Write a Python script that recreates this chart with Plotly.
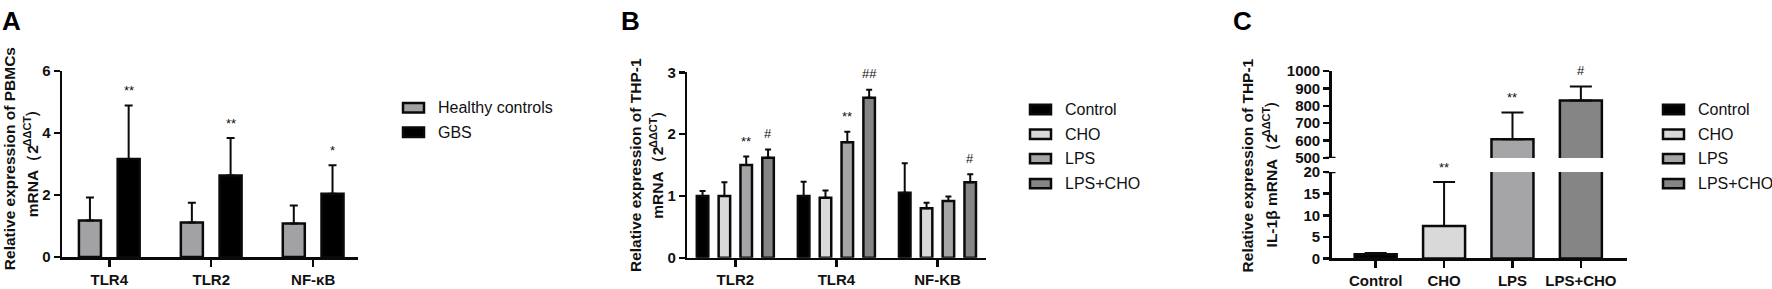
import plotly.graph_objects as go

# ---------------- data ----------------
# Panel A
A_categories = ["TLR4", "TLR2", "NF-κB"]
A_series = ["Healthy controls", "GBS"]
A_healthy = [1.18, 1.11, 1.08]
A_healthy_err = [0.74, 0.64, 0.58]
A_gbs = [3.16, 2.63, 2.04]
A_gbs_err = [1.73, 1.21, 0.92]
A_gbs_sig = ["**", "**", "*"]
A_yticks = [0, 2, 4, 6]

# Panel B
B_categories = ["TLR2", "TLR4", "NF-KB"]
B_series = ["Control", "CHO", "LPS", "LPS+CHO"]
B_control = [1.00, 1.00, 1.05]
B_control_err = [0.08, 0.23, 0.48]
B_cho = [1.00, 0.97, 0.80]
B_cho_err = [0.22, 0.12, 0.09]
B_lps = [1.50, 1.87, 0.92]
B_lps_err = [0.14, 0.17, 0.07]
B_lpscho = [1.62, 2.59, 1.22]
B_lpscho_err = [0.13, 0.13, 0.13]
B_sig = [["", "", ""], ["", "", ""], ["**", "**", ""], ["#", "##", "#"]]
B_yticks = [0, 1, 2, 3]

# Panel C
C_categories = ["Control", "CHO", "LPS", "LPS+CHO"]
C_values = [0.95, 7.5, 608, 831]
C_err = [0.3, 10.2, 154, 81]
C_sig = ["", "**", "**", "#"]
C_low_ticks = [0, 5, 10, 15, 20]
C_high_ticks = [500, 600, 700, 800, 900, 1000]

# axis titles (line 1, line 2 before the superscript, superscript, closing)
TITLE_LINE1 = ["Relative expression of PBMCs", "Relative expression of THP-1",
               "Relative expression of THP-1"]
TITLE_LINE2 = ["mRNA（2", "mRNA（2", "IL-1β mRNA（2"]
TITLE_SUP = "-ΔΔCT"
TITLE_CLOSE = "）"

# ---------------- style ----------------
W, H = 1772, 289
FONT = "Liberation Sans, Arial, sans-serif"
COL_A = ["#a2a2a5", "#000000"]
COL_4 = ["#000000", "#d9d9d9", "#a5a5a8", "#858585"]
EDGE = "#0a0a0a"


def px(x):
    return x / W


def py(y):
    return 1 - y / H


fig = go.Figure()


def add_bars(xa, ya, cats, vals, errs, color, center, width, capw):
    n = len(cats)
    fig.add_trace(go.Bar(
        x=cats, y=vals, xaxis=xa, yaxis=ya,
        width=[width] * n, offset=[center - width / 2] * n,
        marker=dict(color=color, line=dict(color=EDGE, width=2.5)),
        error_y=dict(type="data", array=errs, arrayminus=[0] * n, symmetric=False,
                     color=EDGE, thickness=2, width=capw),
        showlegend=False, hoverinfo="skip",
    ))


# Panel A bars
A_w = 0.216
add_bars("x", "y", A_categories, A_healthy, A_healthy_err, COL_A[0], -0.19, A_w, 4)
add_bars("x", "y", A_categories, A_gbs, A_gbs_err, COL_A[1], 0.19, A_w, 4)

# Panel B bars
B_w = 0.114
B_centers = [-0.324, -0.108, 0.108, 0.324]
B_vals = [B_control, B_cho, B_lps, B_lpscho]
B_errs = [B_control_err, B_cho_err, B_lps_err, B_lpscho_err]
for i in range(4):
    add_bars("x2", "y2", B_categories, B_vals[i], B_errs[i], COL_4[i], B_centers[i], B_w, 3)

# Panel C bars (lower and upper segment of the broken axis)
C_w = 0.614
for ya in ["y3", "y4"]:
    xa = "x3" if ya == "y3" else "x4"
    fig.add_trace(go.Bar(
        x=C_categories, y=C_values, xaxis=xa, yaxis=ya,
        width=[C_w] * 4, offset=[-C_w / 2] * 4,
        marker=dict(color=COL_4, line=dict(color=EDGE, width=2.5)),
        error_y=dict(type="data", array=C_err, arrayminus=[0] * 4, symmetric=False,
                     color=EDGE, thickness=2, width=11),
        showlegend=False, hoverinfo="skip",
    ))

annotations = []
shapes = []


def sig(xref, yref, xpos, ytop, text):
    if not text:
        return
    shift = 16 if "#" in text else 15
    annotations.append(dict(x=xpos, y=ytop, xref=xref, yref=yref, text=text,
                            showarrow=False, yanchor="middle", yshift=shift,
                            font=dict(family=FONT, size=13, color="#111")))


for i in range(3):
    sig("x", "y", i + 0.19, A_gbs[i] + A_gbs_err[i], A_gbs_sig[i])
for s in range(4):
    for i in range(3):
        sig("x2", "y2", i + B_centers[s], B_vals[s][i] + B_errs[s][i], B_sig[s][i])
for i in range(4):
    top = C_values[i] + C_err[i]
    sig("x3" if top <= 20 else "x4", "y3" if top <= 20 else "y4", i, top, C_sig[i])

# ---- rotated y-axis titles, superscript placed as its own text ----
TITLE_SIZE = 15.5
SUP_SIZE = 11
BOLD_W = {"m": .889, "R": .722, "N": .722, "A": .722, "2": .556, "I": .278, "L": .611,
          "-": .333, "1": .556, "β": .611, " ": .278, "（": 1.0, "）": 1.0, "Δ": .722,
          "C": .722, "T": .611}


def text_w(s, size):
    return sum(BOLD_W.get(c, .6) for c in s) * size


def rot(x, y, text, size, yanchor):
    annotations.append(dict(x=px(x), y=py(y), xref="paper", yref="paper", text=text,
                            textangle=-90, showarrow=False, xanchor="center",
                            yanchor=yanchor, borderpad=0, borderwidth=0,
                            font=dict(family=FONT, size=size, color="#111", weight="bold")))


# (line1 x, line1 y-centre, line2 x, line2 start y)
title_pos = [(9.5, 159, 32.5, 221.7), (635, 165.8, 658, 222.8), (1247.5, 166.7, 1271.5, 253.3)]
for k, (x1, y1, x2, y2) in enumerate(title_pos):
    rot(x1, y1, TITLE_LINE1[k], TITLE_SIZE, "middle")
    rot(x2, y2, TITLE_LINE2[k], TITLE_SIZE, "bottom")
    ys = y2 - text_w(TITLE_LINE2[k], TITLE_SIZE)
    rot(x2 - 4.8, ys, TITLE_SUP, SUP_SIZE, "bottom")
    yc = ys - text_w(TITLE_SUP, SUP_SIZE)
    rot(x2, yc, TITLE_CLOSE, TITLE_SIZE, "bottom")

# panel letters
for xl, letter in [(0, "A"), (619, "B"), (1231, "C")]:
    annotations.append(dict(x=px(xl), y=py(13), xref="paper", yref="paper",
                            text=letter, showarrow=False,
                            xanchor="left", yanchor="middle",
                            font=dict(family=FONT, size=26, color="#000", weight="bold")))

# legends (drawn manually to match the wide GraphPad swatches)
LEG_FONT = dict(family=FONT, size=16, color="#111")


def legend(x0, rows, names, colors):
    for yc, name, col in zip(rows, names, colors):
        shapes.append(dict(type="rect", xref="paper", yref="paper",
                           x0=px(x0), x1=px(x0 + 21), y0=py(yc + 5), y1=py(yc - 5),
                           fillcolor=col, line=dict(color=EDGE, width=2.5)))
        annotations.append(dict(x=px(x0 + 33), y=py(yc), xref="paper", yref="paper",
                                text=name, showarrow=False, xanchor="left",
                                yanchor="middle", font=LEG_FONT))


legend(403, [105, 131], A_series, COL_A)
legend(1030, [106.7, 133, 159, 185.5], B_series, COL_4)
legend(1663, [106.7, 133, 159, 185.5], C_categories, COL_4)

# break marks on panel C axis
for yref, yv in [("y4", 500), ("y3", 20)]:
    shapes.append(dict(type="line", xref="paper", yref=yref, x0=px(1325.5), x1=px(1335.5),
                       y0=yv, y1=yv, line=dict(color=EDGE, width=2.5)))

TICKFONT = dict(family=FONT, size=15, color="#111", weight="bold")
common_y = dict(showline=True, linecolor=EDGE, linewidth=2.5, ticks="outside", ticklen=6,
                tickwidth=2.5, tickcolor=EDGE, showgrid=False, zeroline=False,
                tickfont=TICKFONT, fixedrange=True)
common_x = dict(showline=True, linecolor=EDGE, linewidth=2.5, ticks="outside", ticklen=7,
                tickwidth=2.5, tickcolor=EDGE, showgrid=False, zeroline=False,
                tickfont=TICKFONT, type="category", fixedrange=True)

fig.update_layout(
    width=W, height=H, margin=dict(l=0, r=0, t=0, b=0),
    paper_bgcolor="white", plot_bgcolor="white", barmode="overlay",
    font=dict(family=FONT, color="#111"), showlegend=False,
    xaxis=dict(domain=[px(62), px(358)], range=[-0.464, 2.44], anchor="y", **common_x),
    yaxis=dict(domain=[py(263.5), py(66)], range=[0, 6], tickvals=A_yticks, anchor="x", **common_y),
    xaxis2=dict(domain=[px(687.3), px(986)], range=[-0.475, 2.48], anchor="y2", **common_x),
    yaxis2=dict(domain=[py(264.3), py(67.3)], range=[0, 3], tickvals=B_yticks, anchor="x2", **common_y),
    xaxis3=dict(domain=[px(1331.7), px(1626.7)], range=[-0.643, 3.67], anchor="y3", **common_x),
    yaxis3=dict(domain=[py(265), py(173.3)], range=[0, 20], tickvals=C_low_ticks, anchor="x3", **common_y),
    xaxis4=dict(domain=[px(1331.7), px(1626.7)], range=[-0.643, 3.67], anchor="y4", matches="x3",
                visible=False, type="category"),
    yaxis4=dict(domain=[py(158.3), py(66)], range=[500, 1000], tickvals=C_high_ticks, anchor="x4", **common_y),
    annotations=annotations, shapes=shapes,
)

fig.write_html("out.html", include_plotlyjs=True, full_html=True,
               config={"displayModeBar": False, "staticPlot": True},
               post_script="document.body.style.margin='0';document.body.style.overflow='hidden';")
